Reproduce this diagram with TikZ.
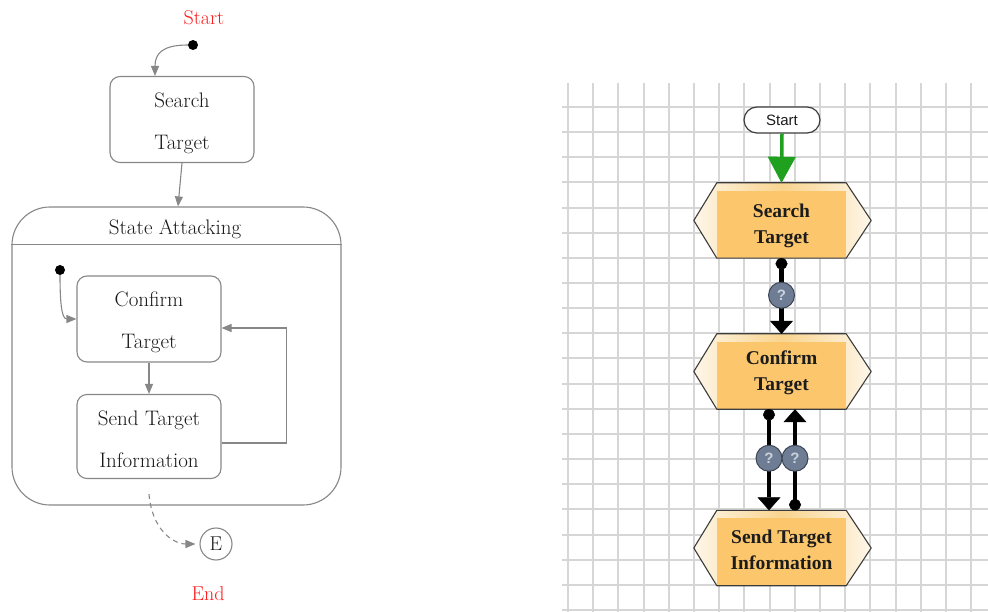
\documentclass[tikz,border=0pt]{standalone}
\usepackage{fontspec}
\newfontfamily\hexserif{Liberation Serif}
\newfontfamily\pillsans{Liberation Sans}
\usetikzlibrary{arrows.meta,shapes.misc,backgrounds}

\definecolor{lgray}{HTML}{878787}
\definecolor{redlbl}{HTML}{FF1A1A}
\definecolor{gridc}{HTML}{D6D6D6}
\definecolor{hexorange}{HTML}{FBC66C}
\definecolor{hexlight}{HTML}{F9D48E}
\definecolor{hexpale}{HTML}{FEF6E8}
\definecolor{hexline}{HTML}{3C3C3C}
\definecolor{hextext}{HTML}{1C1C1C}
\definecolor{startgreen}{HTML}{1FA01F}
\definecolor{qfill}{HTML}{6E7D93}
\definecolor{qedge}{HTML}{3E4656}
\definecolor{qtext}{HTML}{C9D2DE}

\tikzset{
  statebox/.style={draw=lgray, line width=1.1pt, rounded corners=10pt,
    minimum width=144pt, minimum height=86pt, inner sep=0pt},
  statetext/.style={align=center, inner sep=0pt, text=black!90,
    font=\fontsize{21}{42}\selectfont},
  garrow/.style={draw=lgray, line width=1.1pt, -{Triangle[length=10pt,width=8pt]}},
  blackdot/.style={circle, fill=black, minimum size=10pt, inner sep=0pt},
  redlabel/.style={text=redlbl, font=\fontsize{20}{24}\selectfont},
  gridline/.style={draw=gridc, line width=2pt},
  hexnode/.style={minimum width=129pt, minimum height=75pt, inner sep=0pt},
  hextextstyle/.style={align=center, inner sep=0pt, text=hextext,
    font=\hexserif\bfseries\fontsize{19.5}{26}\selectfont},
  pill/.style={rounded rectangle, draw=hexline, line width=1.2pt, fill=white,
    minimum width=76pt, minimum height=26pt, inner sep=0pt,
    font=\pillsans\fontsize{15}{18}\selectfont, text=hextext},
  flow/.style={line width=4.5pt, black,
    {Circle[length=11pt,width=12pt,line width=0.5pt]}-{Triangle[length=13pt,width=23pt,line width=0.5pt]}},
  qmark/.style={circle, fill=qfill, draw=qedge, line width=1pt, minimum size=26pt,
    inner sep=0pt, text=qtext, font=\pillsans\bfseries\fontsize{15}{18}\selectfont},
}

\begin{document}
\begin{tikzpicture}[x=1pt, y=-1pt]
\useasboundingbox (0,0) rectangle (988,612);

% ---------------- state machine (left) ----------------
\node[redlabel] (startlbl) at (204,18) {Start};
\node[blackdot] (init) at (193,45) {};
\node[statebox] (searchst) at (182,119.5) {};
\node[statetext] (searchtx) at ([yshift=-3.5pt]searchst.center) {Search\\Target};
\draw[garrow] (init.west) .. controls +(-26,0) and +(0,-22) .. ([xshift=-27pt]searchst.north);

\node[draw=lgray, line width=1.1pt, rounded corners=38pt,
      minimum width=329pt, minimum height=298pt] (attack) at (176.5,356) {};
\draw[draw=lgray, line width=1.1pt] ([yshift=-38pt]attack.north west) -- ([yshift=-38pt]attack.north east);
\node[font=\fontsize{21}{25}\selectfont, text=black!90] (attacktitle) at (175,229.5) {State Attacking};
\draw[garrow] (searchst.south) -- ([xshift=1.5pt]attack.north);

\node[blackdot] (innerinit) at (60,270) {};
\node[statebox] (confirmst) at (149,319) {};
\node[statetext] (confirmtx) at ([yshift=-3pt]confirmst.center) {Confirm\\Target};
\node[statebox, minimum height=84pt] (sendst) at (149,436.5) {};
\node[statetext] (sendtx) at ([yshift=-3pt]sendst.center) {Send Target\\Information};
\draw[garrow] (innerinit.south) .. controls +(0,26) and +(-15,0) .. (confirmst.west);
\draw[garrow] (confirmst.south) -- (sendst.north);
\draw[garrow] ([yshift=-6.5pt]sendst.east) -- ++(65,0) |- ([yshift=-9pt]confirmst.east);

\coordinate (exitpt) at ([yshift=-15pt]sendst.south);
\node[circle, draw=lgray, line width=1.1pt, minimum size=32pt, inner sep=0pt,
      font=\fontsize{20}{24}\selectfont, text=black!90] (endst) at (216,544) {E};
\draw[garrow, dashed, dash pattern=on 5pt off 4pt, shorten >=4pt]
  (exitpt) .. controls +(3,36) and +(-26,0) .. (endst.west);
\node[redlabel] (endlbl) at (208,594) {End};

% ---------------- flowchart on grid paper (right) ----------------
\begin{pgfonlayer}{background}
  \foreach \i in {0,...,16}{
    \pgfmathsetmacro{\gx}{round(568+25.2*\i)}
    \draw[gridline] (\gx,83) -- (\gx,612);
  }
  \foreach \j in {0,...,20}{
    \pgfmathsetmacro{\gy}{round(107+25.15*\j)}
    \draw[gridline] (562,\gy) -- (988,\gy);
  }
\end{pgfonlayer}

\node[pill] (pstart) at (782,120) {Start};
\node[hexnode] (searchhx) at (781.5,220.5) {};
\node[hextextstyle] (searchlbl) at ([yshift=-5pt]searchhx.center) {Search\\Target};
\node[hexnode] (confirmhx) at (781.5,371.5) {};
\node[hextextstyle] (confirmlbl) at ([yshift=-1.5pt]confirmhx.center) {Confirm\\Target};
\node[hexnode] (sendhx) at (781.5,548) {};
\node[hextextstyle] (sendlbl) at ([yshift=-1.5pt]sendhx.center) {Send Target\\Information};

\begin{pgfonlayer}{background}
  \foreach \h in {searchhx,confirmhx,sendhx}{
    \shade[left color=hexpale, right color=hexpale, middle color=hexlight]
      (\h.north west) -- (\h.north east) -- ([xshift=25pt]\h.east) --
      (\h.south east) -- (\h.south west) -- ([xshift=-23pt]\h.west) -- cycle;
    \fill[hexorange] ([yshift=-8pt]\h.north west) rectangle (\h.south east);
    \draw[hexline, line width=1.1pt, line join=round]
      (\h.north west) -- (\h.north east) -- ([xshift=25pt]\h.east) --
      (\h.south east) -- (\h.south west) -- ([xshift=-23pt]\h.west) -- cycle;
  }
\end{pgfonlayer}

\draw[startgreen, line width=3.5pt, -{Triangle[length=26pt,width=28pt,line width=0.5pt]}]
  (pstart.south) -- (searchhx.north);
\draw[flow] (searchhx.south) -- (confirmhx.north) node[qmark, pos=0.49] (q1) {?};
\draw[flow] ([xshift=-12.5pt]confirmhx.south) -- ([xshift=-12.5pt]sendhx.north)
  node[qmark, pos=0.485] (q2) {?};
\draw[flow] ([xshift=13.5pt]sendhx.north) -- ([xshift=13.5pt]confirmhx.south)
  node[qmark, pos=0.515] (q3) {?};
\end{tikzpicture}
\end{document}
